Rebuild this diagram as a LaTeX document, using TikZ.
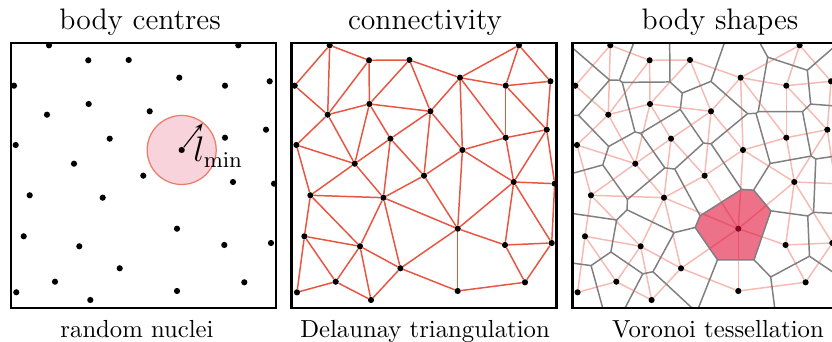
\documentclass[tikz,border=0pt]{standalone}
\usetikzlibrary{calc,arrows.meta}

\definecolor{linkred}{HTML}{E8533F}
\definecolor{wallgray}{HTML}{7F7F7F}
\definecolor{discfill}{HTML}{F9D3DC}
\definecolor{discrim}{HTML}{EE7A6A}
\definecolor{cellred}{HTML}{E2123C}

\tikzset{
  dot/.style={circle, fill=black, inner sep=0pt, minimum size=2.5pt},
  boxline/.style={line width=1pt},
  link/.style={linkred, line width=0.6pt, line cap=round, opacity=0.99},
  faintlink/.style={link, opacity=0.4},
  cellwall/.style={wallgray, line width=0.6pt},
  heading/.style={anchor=base, inner sep=0pt, font=\large},
  footing/.style={anchor=base, inner sep=0pt},
}

% nuclei (box-local, 265 x 265)
\newcommand\nuclei{38/262.7, 227.3/262.7, 77.3/247.7, 117.7/248, 168.3/230.3,
  3/222.3, 214/222.3, 258.7/226.7, 77.7/204, 36/193.3, 138.7/196.7, 255/178.3,
  214/170.3, 98.7/169.3, 4.7/163, 170.7/158, 63/144.3, 132.3/132.3, 222/126,
  263/124.3, 18.7/112.7, 91.7/110.3, 166/79.3, 12.7/71.7, 68.3/61.7, 213.3/63,
  260/65, 108.7/39.7, 44/26.3, 233.3/25.7, 5.3/15.7, 166/17, 79.3/8}

% Delaunay links
\newcommand\links{1/6, 1/10, 1/3, 3/4, 3/9, 3/10, 4/9, 4/11, 4/5, 2/5, 5/7,
  5/11, 5/16, 5/13, 2/7, 2/8, 7/8, 7/13, 7/12, 8/12, 6/10, 9/10, 9/11, 9/17,
  9/14, 10/15, 10/17, 11/14, 11/18, 11/16, 12/13, 12/19, 12/20, 13/16, 13/19,
  14/17, 14/22, 14/18, 15/17, 15/21, 16/18, 16/23, 16/19, 17/21, 17/22, 18/22,
  18/23, 19/20, 19/23, 19/26, 19/27, 20/27, 21/22, 21/24, 21/25, 22/25, 22/28,
  22/23, 23/26, 23/28, 23/32, 24/25, 24/29, 24/31, 25/29, 25/33, 25/28, 26/27,
  26/30, 27/30, 28/33, 28/32, 29/31, 29/33, 30/32}

% triangles: id/a/b/c
\newcommand\triangles{1/1/6/10, 2/1/3/10, 3/3/9/10, 4/3/4/9, 5/4/9/11,
  6/4/5/11, 7/2/5/7, 8/2/7/8, 9/5/7/13, 10/7/12/13, 11/7/8/12, 12/5/13/16,
  13/5/11/16, 14/9/11/14, 15/9/14/17, 16/9/10/17, 17/10/15/17, 18/11/14/18,
  19/11/16/18, 20/12/13/19, 21/12/19/20, 22/13/16/19, 23/14/17/22,
  24/14/18/22, 25/15/17/21, 26/17/21/22, 27/16/18/23, 28/16/19/23,
  29/18/22/23, 30/19/23/26, 31/19/26/27, 32/19/20/27, 33/21/22/25,
  34/21/24/25, 35/22/25/28, 36/22/23/28, 37/24/25/29, 38/24/29/31,
  39/25/29/33, 40/25/28/33, 41/23/28/32, 42/26/27/30, 43/23/26/32,
  44/26/30/32, 45/6/10/15}

% cell walls between neighbouring triangles
\newcommand\walls{1/2, 1/45, 2/3, 3/4, 4/5, 5/6, 3/16, 5/14, 6/13, 7/8, 7/9,
  8/11, 9/10, 10/11, 9/12, 12/13, 13/19, 14/15, 14/18, 15/16, 16/17, 17/45,
  15/23, 18/19, 18/24, 19/27, 10/20, 20/21, 20/22, 21/32, 12/22, 22/28, 23/26,
  23/24, 24/29, 17/25, 25/26, 26/33, 27/29, 27/28, 28/30, 29/36, 30/31, 30/43,
  31/32, 31/42, 33/34, 33/35, 34/37, 35/36, 35/40, 36/41, 37/38, 37/39, 39/40,
  41/43, 42/44, 43/44}

% open walls on the hull: a/b/triangle
\newcommand\hullwalls{1/6/1, 6/15/45, 15/21/25, 21/24/34, 24/31/38, 31/29/38,
  29/33/39, 33/28/40, 28/32/41, 32/30/44, 30/27/42, 27/20/32, 20/12/21,
  12/8/11, 8/2/8, 2/5/7, 5/4/6, 4/3/4, 3/1/2}

% circumcentre #1 of nodes #2, #3, #4
\newcommand\circumcentre[4]{%
  \path let \p1=(#2.center), \p2=(#3.center), \p3=(#4.center),
    \n1={(\x2-\x1)/10}, \n2={(\y2-\y1)/10},
    \n3={(\x3-\x1)/10}, \n4={(\y3-\y1)/10},
    \n5={2*(\n1*\n4-\n2*\n3)},
    \n6={\n1*\n1+\n2*\n2}, \n7={\n3*\n3+\n4*\n4}
  in coordinate (#1) at ({\x1+10*(\n4*\n6-\n2*\n7)/\n5},
                         {\y1+10*(\n1*\n7-\n3*\n6)/\n5});}

\begin{document}
\begin{tikzpicture}[x=0.405pt, y=0.405pt]
  \useasboundingbox (0,0) rectangle (832,342);

  % body centres
  \begin{scope}[shift={(11,34)}]
    \draw[discrim, fill=discfill, line width=0.5pt] (170.7,158) circle[radius=34.5];
    \foreach \x/\y [count=\i] in \nuclei
      \node[dot] (n\i) at (\x,\y) {};
    \coordinate (rim) at (191.6,184.8);
    \draw[line width=0.45pt, -{Stealth[length=3.2pt, width=2.6pt]}] (n16) -- (rim);
    \node[anchor=base west, inner sep=0pt, font=\fontsize{13.5}{16}\selectfont]
      (lmin) at (182,146) {$l_{\min}$};
    \draw[boxline] (0,0) rectangle (265,265);
  \end{scope}

  % connectivity
  \begin{scope}[shift={(291.7,34)}]
    \foreach \x/\y [count=\i] in \nuclei
      \node[dot] (d\i) at (\x,\y) {};
    \foreach \a/\b in \links
      \draw[link] (d\a) -- (d\b);
    \draw[boxline] (0,0) rectangle (265,265);
  \end{scope}

  % body shapes
  \begin{scope}[shift={(572.3,34)}]
    \foreach \x/\y [count=\i] in \nuclei
      \node[dot] (v\i) at (\x,\y) {};
    \foreach \a/\b in \links
      \draw[faintlink] (v\a) -- (v\b);
  \end{scope}
  \foreach \t/\a/\b/\c in \triangles
    \circumcentre{t\t}{v\a}{v\b}{v\c};
  \begin{scope}[shift={(572.3,34)}]
    \clip (0,0) rectangle (265,265);
    \fill[cellred, opacity=0.6] (t28) -- (t30) -- (t43) -- (t41) -- (t36)
      -- (t29) -- (t27) -- cycle;
    \foreach \s/\t in \walls
      \draw[cellwall] (t\s) -- (t\t);
    \foreach \a/\b/\t in \hullwalls
      \draw[cellwall] (t\t) -- ($(v\a.center)!0.5!(v\b.center)!4!-90:(v\b.center)$);
  \end{scope}
  \draw[boxline] (572.3,34) rectangle ++(265,265);

  % captions
  \node[heading] (title1) at (140,312.1) {body centres};
  \node[heading] (title2) at (425,312.1) {connectivity};
  \node[heading] (title3) at (720,312.1) {body shapes};
  \node[footing] (label1) at (137,4.3) {random nuclei};
  \node[footing] (label2) at (425,4.3) {Delaunay triangulation};
  \node[footing] (label3) at (718,4.3) {Voronoi tessellation};
\end{tikzpicture}
\end{document}
